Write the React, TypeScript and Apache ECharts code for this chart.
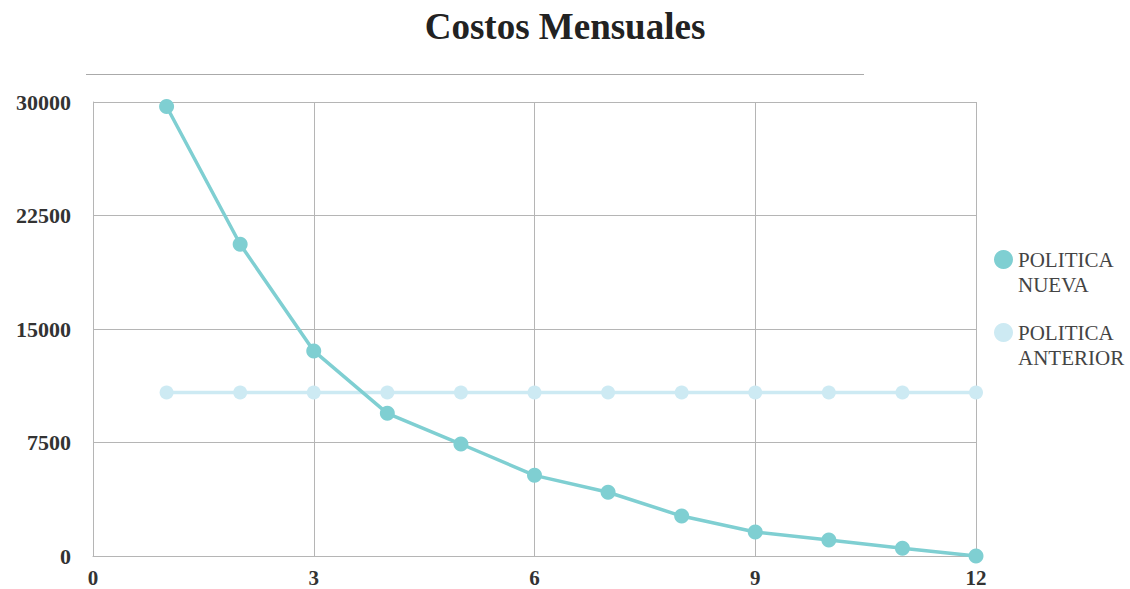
import React, { useEffect, useRef } from "react";
import * as echarts from "echarts";

const months = [1, 2, 3, 4, 5, 6, 7, 8, 9, 10, 11, 12];
const nueva = [29700, 20600, 13550, 9430, 7400, 5330, 4210, 2640, 1590, 1060, 510, 0];
const anterior = [10800, 10800, 10800, 10800, 10800, 10800, 10800, 10800, 10800, 10800, 10800, 10800];
const seriesNames = ["POLITICA\nNUEVA", "POLITICA\nANTERIOR"];
const colors = ["#7fcfd2", "#cdeaf3"];

const FONT = "'Liberation Serif', 'Times New Roman', serif";

export default function App() {
  const ref = useRef<HTMLDivElement>(null);
  useEffect(() => {
    document.body.style.margin = "0";
    const chart = echarts.init(ref.current!, null, { renderer: "svg" });
    const legendText = {
      fontFamily: FONT,
      fontSize: 21,
      color: "#444",
      lineHeight: 25,
    };
    const legendBase = {
      orient: "vertical",
      left: 989,
      icon: "circle",
      itemWidth: 19,
      itemHeight: 19,
      itemGap: 7,
      textStyle: legendText,
      formatter: (name: string) => "\u00a0\n" + name,
    };
    chart.setOption({
      animation: false,
      backgroundColor: "#fff",
      title: {
        text: "Costos Mensuales",
        left: 560,
        textAlign: "center",
        top: 3,
        textStyle: { fontFamily: FONT, fontSize: 37, fontWeight: "bold", color: "#222" },
      },
      graphic: [
        {
          type: "line",
          shape: { x1: 86, y1: 74.5, x2: 864, y2: 74.5 },
          style: { stroke: "#aaa", lineWidth: 1 },
        },
      ],
      legend: [
        { ...legendBase, data: [seriesNames[0]], top: 217 },
        { ...legendBase, data: [seriesNames[1]], top: 290 },
      ],
      grid: { left: 93, right: 154, top: 102, bottom: 33, containLabel: false },
      xAxis: {
        type: "value",
        min: 0,
        max: 12,
        interval: 3,
        axisLine: { show: true, lineStyle: { color: "#b5b5b5", width: 1 } },
        axisTick: { show: false },
        splitLine: { show: true, lineStyle: { color: "#b5b5b5", width: 1 } },
        axisLabel: {
          margin: 11,
          fontFamily: FONT,
          fontSize: 21,
          fontWeight: "bold",
          color: "#333",
        },
      },
      yAxis: {
        type: "value",
        min: 0,
        max: 30000,
        interval: 7500,
        axisLine: { show: true, lineStyle: { color: "#b5b5b5", width: 1 } },
        axisTick: { show: false },
        splitLine: { show: true, lineStyle: { color: "#b5b5b5", width: 1 } },
        axisLabel: {
          margin: 22,
          fontFamily: FONT,
          fontSize: 22,
          fontWeight: "bold",
          color: "#333",
          formatter: (v: number) => String(v),
        },
      },
      series: [
        {
          name: seriesNames[1],
          type: "line",
          data: months.map((m, i) => [m, anterior[i]]),
          symbol: "circle",
          symbolSize: 14,
          itemStyle: { color: colors[1] },
          lineStyle: { color: colors[1], width: 3.5 },
          z: 2,
        },
        {
          name: seriesNames[0],
          type: "line",
          data: months.map((m, i) => [m, nueva[i]]),
          symbol: "circle",
          symbolSize: 15,
          itemStyle: { color: colors[0] },
          lineStyle: { color: colors[0], width: 3.5 },
          z: 3,
        },
      ],
    });
    return () => chart.dispose();
  }, []);
  return <div ref={ref} style={{ width: 1130, height: 589 }} />;
}
